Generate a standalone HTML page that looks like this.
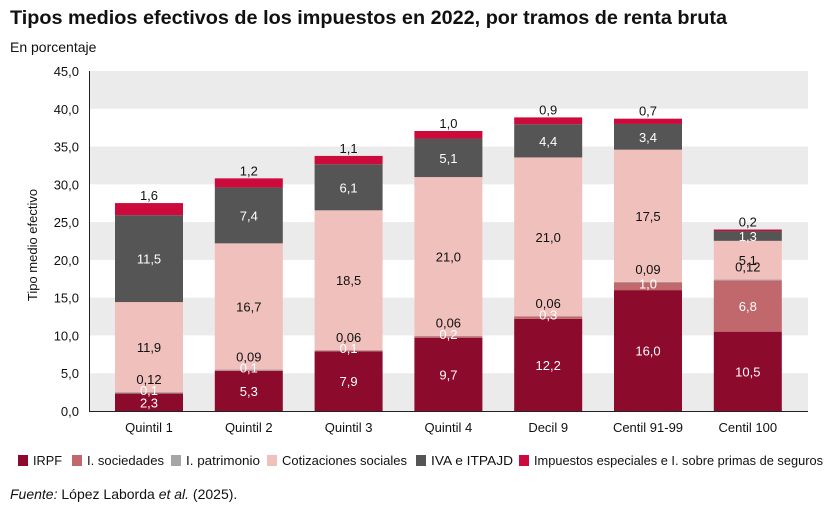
<!DOCTYPE html>
<html><head><meta charset="utf-8"><style>
body{margin:0;background:#fff;width:833px;height:514px;overflow:hidden;font-family:"Liberation Sans",sans-serif}
svg{display:block}
</style></head><body>
<svg id="c" width="833" height="514" xmlns="http://www.w3.org/2000/svg">
<text x="10" y="24" font-size="19" font-weight="bold" fill="#111" textLength="717" lengthAdjust="spacingAndGlyphs">Tipos medios efectivos de los impuestos en 2022, por tramos de renta bruta</text>
<text x="10" y="52" font-size="14" fill="#111">En porcentaje</text>
<g id="grid"></g><g id="bars"></g><g id="labels"></g><g id="axes"></g>
<text transform="translate(37,245) rotate(-90)" text-anchor="middle" font-size="13" fill="#111">Tipo medio efectivo</text>
<g id="legend" font-size="13" fill="#111"></g>
<text x="10" y="499" font-size="14" fill="#111"><tspan font-style="italic">Fuente:</tspan> López Laborda <tspan font-style="italic">et al.</tspan> (2025).</text>
</svg>
<script>
const categories=["Quintil 1","Quintil 2","Quintil 3","Quintil 4","Decil 9","Centil 91-99","Centil 100"];
const irpf=[2.3,5.3,7.9,9.7,12.2,16.0,10.5];
const sociedades=[0.1,0.1,0.1,0.2,0.3,1.0,6.8];
const patrimonio=[0.12,0.09,0.06,0.06,0.06,0.09,0.12];
const cotizaciones=[11.9,16.7,18.5,21.0,21.0,17.5,5.1];
const iva=[11.5,7.4,6.1,5.1,4.4,3.4,1.3];
const especiales=[1.6,1.2,1.1,1.0,0.9,0.7,0.2];
const yTicks=[0,5,10,15,20,25,30,35,40,45];
const seriesNames=["IRPF","I. sociedades","I. patrimonio","Cotizaciones sociales","IVA e ITPAJD","Impuestos especiales e I. sobre primas de seguros"];

const NS="http://www.w3.org/2000/svg";
const x0=89,x1=808,yBase=411,yTop=71,yMax=45;
const y=v=>yBase-(v/yMax)*(yBase-yTop);
const xc=i=>149+i*99.8;
const bw=68;
function mk(tag,attrs,parent,txt){const e=document.createElementNS(NS,tag);for(const k in attrs)e.setAttribute(k,attrs[k]);if(txt!==undefined)e.textContent=txt;parent.appendChild(e);return e;}
const fmt=v=>{let s=String(v);if(s.indexOf('.')<0)s+=',0';return s.replace('.',',');};

const grid=document.getElementById('grid');
for(let t=0;t<yMax;t+=10){
  const r=mk('rect',{x:x0,y:y(t+5),width:x1-x0,height:y(t)-y(t+5),fill:'#ebebeb'},grid);
  
  
}
const axes=document.getElementById('axes');
yTicks.forEach(t=>{
  const tx=mk('text',{x:79,y:y(t)+5,'text-anchor':'end','font-size':13,fill:'#111'},axes,t.toFixed(1).replace('.',','));
  
  
});
const ya=mk('line',{x1:x0+0.5,x2:x0+0.5,y1:yTop,y2:yBase+1,stroke:'#222','stroke-width':1},axes);


const xa=mk('line',{x1:x0,x2:x1,y1:yBase+0.5,y2:yBase+0.5,stroke:'#222','stroke-width':1},axes);



const series=[irpf,sociedades,patrimonio,cotizaciones,iva,especiales];
const colors=['#8c0a2b','#c0686c','#a6a6a6','#f0c0bc','#555555','#cc0a3c'];
const tcol=['#fff','#fff','#111','#111','#fff','#111'];
const keys=['irpf','sociedades','patrimonio','cotizaciones','iva','especiales'];
const bars=document.getElementById('bars');
const labels=document.getElementById('labels');
categories.forEach((c,i)=>{
  let cum=0;
  series.forEach((s,k)=>{
    const v=s[i],b=cum,t=cum+v;cum=t;
    const r=mk('rect',{x:xc(i)-bw/2,y:y(t),width:bw,height:y(b)-y(t),fill:colors[k]},bars);
    
    
    let ly;
    if(k==2) ly=y(t)-13;
    else if(k==5) ly=y(t)-8;
    else if(k==1 && v<1.5) ly=(y(b)+y(t))/2-3;
    else ly=(y(b)+y(t))/2;
    const l=mk('text',{x:xc(i),y:ly+5,'text-anchor':'middle','font-size':13,fill:tcol[k]},labels,fmt(v));
    
    
  });
  const xl=mk('text',{x:xc(i),y:432,'text-anchor':'middle','font-size':13,fill:'#111'},labels,c);
  
  
});

const leg=document.getElementById('legend');
const lx=[18,72,171,267,416,519];
const tw=[29,77,74,125,82,289];
seriesNames.forEach((n,k)=>{
  const g=mk('g',{},leg);
  
  
  mk('rect',{x:lx[k],y:455,width:10,height:11,fill:colors[k]},g);
  mk('text',{x:lx[k]+15,y:465,textLength:tw[k],lengthAdjust:'spacingAndGlyphs'},g,n);
});
</script>
</body></html>
